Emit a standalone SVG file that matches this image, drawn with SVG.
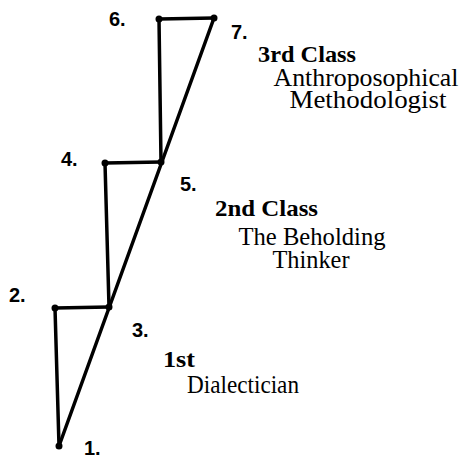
<svg xmlns="http://www.w3.org/2000/svg" width="460" height="458" viewBox="0 0 460 458">
<rect width="460" height="458" fill="#fff"/>
<g id="connectors" stroke="#000" stroke-width="3.5" stroke-linecap="round" fill="none">
<line x1="59" y1="446" x2="55" y2="308"/>
<line x1="55" y1="308" x2="109" y2="307"/>
<line x1="109" y1="307" x2="105" y2="163"/>
<line x1="105" y1="163" x2="161" y2="162"/>
<line x1="161" y1="162" x2="159" y2="19"/>
<line x1="159" y1="19" x2="214" y2="18"/>
<line x1="59" y1="446" x2="214" y2="18"/>
</g>
<g id="p1"><circle cx="59" cy="446" r="3.5"/><text x="84" y="455" font-family="Liberation Sans" font-weight="bold" font-size="20">1.</text></g>
<g id="p2"><circle cx="55" cy="308" r="3.5"/><text x="9" y="302" font-family="Liberation Sans" font-weight="bold" font-size="20">2.</text></g>
<g id="p3"><circle cx="109" cy="307" r="3.5"/><text x="132" y="337" font-family="Liberation Sans" font-weight="bold" font-size="20">3.</text></g>
<g id="p4"><circle cx="105" cy="163" r="3.5"/><text x="61" y="166" font-family="Liberation Sans" font-weight="bold" font-size="20">4.</text></g>
<g id="p5"><circle cx="161" cy="162" r="3.5"/><text x="180" y="191" font-family="Liberation Sans" font-weight="bold" font-size="20">5.</text></g>
<g id="p6"><circle cx="159" cy="19" r="3.5"/><text x="109" y="26" font-family="Liberation Sans" font-weight="bold" font-size="20">6.</text></g>
<g id="p7"><circle cx="214" cy="18" r="3.5"/><text x="231" y="39" font-family="Liberation Sans" font-weight="bold" font-size="20">7.</text></g>
<g id="class3">
<text x="258" y="62" font-family="Liberation Serif" font-weight="bold" font-size="23" textLength="98" lengthAdjust="spacingAndGlyphs">3rd Class</text>
<text x="366" y="86" font-family="Liberation Serif" font-size="25" text-anchor="middle" textLength="185" lengthAdjust="spacingAndGlyphs">Anthroposophical</text>
<text x="368" y="108" font-family="Liberation Serif" font-size="25" text-anchor="middle" textLength="157" lengthAdjust="spacingAndGlyphs">Methodologist</text>
</g>
<g id="class2">
<text x="215" y="216" font-family="Liberation Serif" font-weight="bold" font-size="23" textLength="103" lengthAdjust="spacingAndGlyphs">2nd Class</text>
<text x="312" y="245" font-family="Liberation Serif" font-size="25" text-anchor="middle" textLength="147" lengthAdjust="spacingAndGlyphs">The Beholding</text>
<text x="311" y="268" font-family="Liberation Serif" font-size="25" text-anchor="middle" textLength="77" lengthAdjust="spacingAndGlyphs">Thinker</text>
</g>
<g id="class1">
<text x="163" y="367" font-family="Liberation Serif" font-weight="bold" font-size="23" textLength="32" lengthAdjust="spacingAndGlyphs">1st</text>
<text x="187" y="393" font-family="Liberation Serif" font-size="25" textLength="112" lengthAdjust="spacingAndGlyphs">Dialectician</text>
</g>
</svg>
